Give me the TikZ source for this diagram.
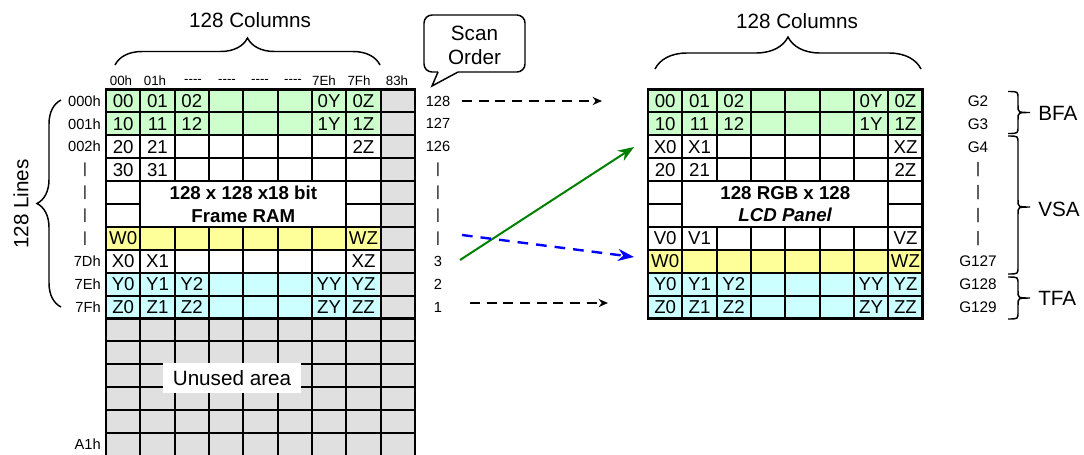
\documentclass[tikz,border=0pt]{standalone}
\usepackage{fontspec}
\setmainfont{Liberation Sans}
\usepackage{xcolor}
\usetikzlibrary{arrows.meta,decorations.pathreplacing,positioning}

\definecolor{ramgreen}{RGB}{204,255,204}
\definecolor{ramyellow}{RGB}{255,255,153}
\definecolor{ramcyan}{RGB}{204,255,255}
\definecolor{ramgray}{RGB}{224,224,224}
\definecolor{mapgreen}{RGB}{0,128,0}
\definecolor{mapblue}{RGB}{0,0,255}

\newcommand{\fourdash}{-\kern0pt-\kern0pt-\kern0pt-}

\tikzset{
  cell/.style={font=\fontsize{14}{16}\selectfont, inner sep=0pt},
  bigtext/.style={font=\fontsize{15.5}{18}\selectfont, inner sep=0pt},
  coltag/.style={font=\fontsize{10}{12}\selectfont, inner sep=0pt},
  rowtag/.style={font=\fontsize{11}{13}\selectfont, inner sep=0pt},
  gtag/.style={font=\fontsize{11.5}{13}\selectfont, inner sep=0pt},
  gridline/.style={line width=1.5pt},
  frameline/.style={line width=2.2pt},
  curlybrace/.style={line width=1.1pt, decorate, decoration={brace, amplitude=#1}},
  sidebrace/.style={line width=1.1pt},
  scanarrow/.style={line width=1.4pt, dash pattern=on 7.5pt off 5pt, -{Stealth[length=7pt,width=6pt]}},
  maparrow/.style={line width=1.5pt, -{Stealth[length=12pt,width=9pt]}}
}

\begin{document}
\begin{tikzpicture}[x=0.75pt,y=-0.75pt]
    \useasboundingbox (0,0) rectangle (1084,454);
    \clip (0,0) rectangle (1084,454);
    \def\cellW{34.33}
    \def\cellH{22.9}

    % 左边 Frame RAM 底色
    \fill[ramgray] (106,89.5) rectangle (415,460);
    \fill[white] (106,89.5) rectangle ({106+8*\cellW},{89.5+10*\cellH});
    \fill[ramgreen] (106,89.5) rectangle ({106+8*\cellW},{89.5+2*\cellH});
    \fill[ramyellow] (106,{89.5+6*\cellH}) rectangle ({106+8*\cellW},{89.5+7*\cellH});
    \fill[ramcyan] (106,{89.5+8*\cellH}) rectangle ({106+8*\cellW},{89.5+10*\cellH});

    % 左边网格线
    \foreach \r in {0,...,16}
        \draw[gridline] (106,{89.5+\r*\cellH}) -- (415,{89.5+\r*\cellH});
    \foreach \c in {0,...,9}
        \draw[gridline] ({106+\c*\cellW},89.5) -- ({106+\c*\cellW},460);
    \fill[white] ({106+\cellW+1.1},{89.5+4*\cellH+1.1}) rectangle ({106+7*\cellW-1.1},{89.5+6*\cellH-1.1});
    \draw[frameline] (106,89.5) rectangle (415,{89.5+10*\cellH});

    % 左边格子文字
    \foreach \r/\cells in {0/{0/00,1/01,2/02,6/0Y,7/0Z}, 1/{0/10,1/11,2/12,6/1Y,7/1Z},
                           2/{0/20,1/21,7/2Z}, 3/{0/30,1/31}, 6/{0/W0,7/WZ},
                           7/{0/X0,1/X1,7/XZ}, 8/{0/Y0,1/Y1,2/Y2,6/YY,7/YZ},
                           9/{0/Z0,1/Z1,2/Z2,6/ZY,7/ZZ}}
        \foreach \c/\t in \cells
            \node[cell] (ram\r-\c) at ({106+(\c+0.5)*\cellW},{89.5+(\r+0.5)*\cellH}) {\t};
    \node[cell, font=\bfseries\fontsize{14}{17}\selectfont, align=center] (ramtitle)
        at ({106+4*\cellW},{89.5+5*\cellH}) {128 x 128 x18 bit\\Frame RAM};
    \node[bigtext, fill=white, minimum width=103pt, minimum height=22.5pt] (unused) at (232,378) {Unused area};

    % 列地址和行地址
    \foreach \x/\t in {121/00h,155/01h,193/\fourdash,227/\fourdash,260/\fourdash,293/\fourdash,324/7Eh,359/7Fh,397/83h}
        \node[coltag] (col\x) at (\x,81) {\t};
    \foreach \r/\t in {0/000h,1/001h,2/002h,7/7Dh,8/7Eh,9/7Fh,15/A1h}
        \node[rowtag, anchor=east] (row\r) at (101,{89.5+(\r+0.5)*\cellH}) {\t};
    \foreach \r in {3,...,6}
        \node[rowtag] (rowbar\r) at (85,{89.5+(\r+0.5)*\cellH}) {|};

    % 左边大括号
    \draw[curlybrace=20.25pt] (115,65) -- (380,65);
    \node[bigtext] (ramcols) at (250,20) {128 Columns};
    \draw[curlybrace=18pt] (61,307) -- (61,100);
    \node[bigtext, rotate=90] (ramlines) at (21,204) {128 Lines};

    % 扫描顺序
    \node[bigtext, align=center] (scanorder) at (474.5,45) {Scan\\Order};
    \draw[line width=1.1pt, rounded corners=6pt] (438,72) -- (424,72) -- (424,15) -- (525,15) -- (525,72) -- (458,72);
    \draw[line width=1.1pt] (438,72) -- (432,86) -- (458,72);
    \foreach \r/\t in {0/128,1/127,2/126,3/|,4/|,5/|,6/|,7/3,8/2,9/1}
        \node[rowtag] (scan\r) at (438,{89.5+(\r+0.5)*\cellH}) {\t};

    % 右边 LCD Panel 底色
    \fill[white] (648,89.5) rectangle ({648+8*\cellW},{89.5+10*\cellH});
    \fill[ramgreen] (648,89.5) rectangle ({648+8*\cellW},{89.5+2*\cellH});
    \fill[ramyellow] (648,{89.5+7*\cellH}) rectangle ({648+8*\cellW},{89.5+8*\cellH});
    \fill[ramcyan] (648,{89.5+8*\cellH}) rectangle ({648+8*\cellW},{89.5+10*\cellH});

    % 右边网格线
    \foreach \r in {0,...,10}
        \draw[gridline] (648,{89.5+\r*\cellH}) -- ({648+8*\cellW},{89.5+\r*\cellH});
    \foreach \c in {0,...,8}
        \draw[gridline] ({648+\c*\cellW},89.5) -- ({648+\c*\cellW},{89.5+10*\cellH});
    \fill[white] ({648+\cellW+1.1},{89.5+4*\cellH+1.1}) rectangle ({648+7*\cellW-1.1},{89.5+6*\cellH-1.1});
    \draw[frameline] (648,89.5) rectangle ({648+8*\cellW},{89.5+10*\cellH});

    % 右边格子文字
    \foreach \r/\cells in {0/{0/00,1/01,2/02,6/0Y,7/0Z}, 1/{0/10,1/11,2/12,6/1Y,7/1Z},
                           2/{0/X0,1/X1,7/XZ}, 3/{0/20,1/21,7/2Z}, 6/{0/V0,1/V1,7/VZ},
                           7/{0/W0,7/WZ}, 8/{0/Y0,1/Y1,2/Y2,6/YY,7/YZ},
                           9/{0/Z0,1/Z1,2/Z2,6/ZY,7/ZZ}}
        \foreach \c/\t in \cells
            \node[cell] (lcd\r-\c) at ({648+(\c+0.5)*\cellW},{89.5+(\r+0.5)*\cellH}) {\t};
    \node[cell, font=\bfseries\fontsize{14}{17}\selectfont, align=center] (lcdtitle)
        at ({648+4*\cellW},{89.5+5*\cellH}) {128 RGB x 128\\\textit{LCD Panel}};

    % 右边大括号和 G 标号
    \draw[curlybrace=24pt] (655,69) -- (921,69);
    \node[bigtext] (lcdcols) at (797,21) {128 Columns};
    \foreach \r/\t in {0/G2,1/G3,2/G4,3/|,4/|,5/|,6/|,7/G127,8/G128,9/G129}
        \node[gtag] (gate\r) at (978,{89.5+(\r+0.5)*\cellH}) {\t};
    \draw[sidebrace] (1008,91.5) .. controls (1018,91.5) .. (1018,98.5) -- (1018,105.5)
        .. controls (1018,112.5) .. (1030,112.5) .. controls (1018,112.5) .. (1018,119.5)
        -- (1018,126.5) .. controls (1018,133.5) .. (1008,133.5);
    \draw[sidebrace] (1008,136) .. controls (1018,136) .. (1018,143) -- (1018,200)
        .. controls (1018,207) .. (1030,207) .. controls (1018,207) .. (1018,214)
        -- (1018,267) .. controls (1018,274) .. (1008,274);
    \draw[sidebrace] (1008,277) .. controls (1018,277) .. (1018,284) -- (1018,291)
        .. controls (1018,298) .. (1030,298) .. controls (1018,298) .. (1018,305)
        -- (1018,312) .. controls (1018,319) .. (1008,319);
    \node[bigtext, anchor=west] (bfa) at (1038,113) {BFA};
    \node[bigtext, anchor=west] (vsa) at (1038,209) {VSA};
    \node[bigtext, anchor=west] (tfa) at (1038,298) {TFA};

    % 箭头
    \coordinate (topfrom) at (462,101);
    \coordinate (topto) at (602,101);
    \coordinate (lastfrom) at (470,303);
    \coordinate (lastto) at (608,303);
    \coordinate (xfrom) at (460,260);
    \coordinate (xto) at (634,147);
    \coordinate (wfrom) at (462,235);
    \coordinate (wto) at (634,257);
    \draw[scanarrow] (topfrom) -- (topto);
    \draw[scanarrow] (lastfrom) -- (lastto);
    \draw[maparrow, mapgreen] (xfrom) -- (xto);
    \draw[maparrow, mapblue, line width=1.8pt, dash pattern=on 8pt off 6pt] (wfrom) -- (wto);

\end{tikzpicture}
\end{document}
